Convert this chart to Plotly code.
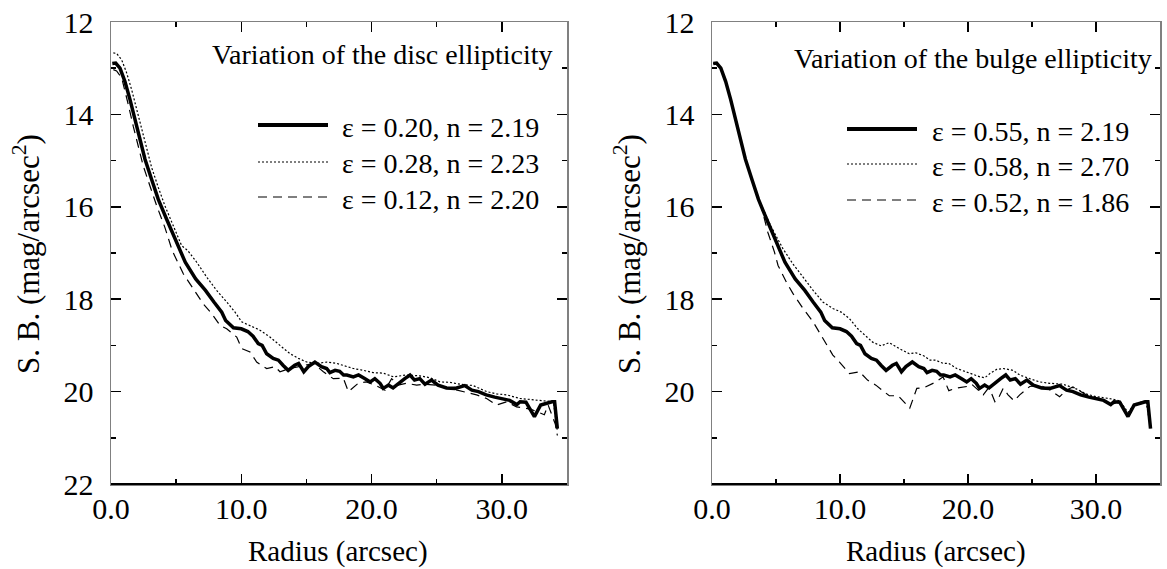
import plotly.graph_objects as go

# ---------------- data ----------------
# common reference profile (thick solid line, identical in both panels)
r_ref = [0.1, 0.36, 0.69, 1.07, 1.46, 1.84, 2.23, 2.61, 3.12, 3.63, 4.27, 4.91, 5.2, 5.7, 6.5,
         7.25, 7.9, 8.5, 8.8, 9.4, 10.0, 10.5, 10.9, 11.3, 11.6, 11.95, 12.45, 12.85, 13.2,
         13.6, 14.1, 14.4, 14.8, 15.15, 15.65, 16.15, 16.55, 16.8, 17.2, 17.55, 17.85, 18.1,
         18.6, 19.0, 19.5, 19.9, 20.25, 20.65, 20.9, 21.3, 21.65, 22.05, 22.55, 22.95, 23.3,
         23.7, 24.1, 24.6, 25.1, 25.75, 26.4, 27.15, 27.7, 28.2, 28.8, 29.45, 30.1, 30.6,
         31.15, 31.4, 31.85, 32.5, 32.98, 33.4, 33.85, 34.05, 34.26]
sb_ref = [12.90, 12.89, 13.0, 13.29, 13.68, 14.11, 14.54, 14.97, 15.41, 15.84, 16.27, 16.70, 16.9,
          17.2, 17.56, 17.81, 18.06, 18.28, 18.46, 18.62, 18.64, 18.70, 18.80, 18.96, 19.0,
          19.18, 19.28, 19.32, 19.43, 19.54, 19.43, 19.39, 19.57, 19.46, 19.36, 19.46, 19.5,
          19.59, 19.54, 19.56, 19.64, 19.64, 19.68, 19.64, 19.72, 19.79, 19.72, 19.82, 19.93,
          19.86, 19.92, 19.82, 19.72, 19.64, 19.75, 19.72, 19.84, 19.75, 19.86, 19.92, 19.93,
          19.87, 19.97, 20.0, 20.07, 20.12, 20.15, 20.19, 20.28, 20.22, 20.23, 20.54, 20.29,
          20.25, 20.22, 20.22, 20.8]

# disc ellipticity 0.28 (dotted)
r_disc_hi = [0.18, 0.43, 0.82, 1.2, 1.59, 1.97, 2.36, 2.74, 3.12, 3.63, 4.14, 4.78, 5.42, 5.9,
             6.58, 7.34, 8.11, 8.88, 9.52, 10.03, 10.67, 11.43, 12.2, 12.97, 13.74, 14.38,
             15.02, 15.79, 16.56, 17.32, 17.9, 18.6, 19.37, 20.13, 20.9, 21.67, 22.69, 23.71,
             24.48, 25.25, 26.02, 26.78, 27.8, 28.83, 29.6, 30.37, 31.39, 32.3, 33.26, 33.96, 34.26]
sb_disc_hi = [12.67, 12.68, 12.82, 13.1, 13.47, 13.9, 14.33, 14.76, 15.15, 15.58, 15.98, 16.41,
              16.84, 16.95, 17.2, 17.52, 17.81, 18.06, 18.28, 18.49, 18.57, 18.67, 18.82, 19.0,
              19.18, 19.28, 19.36, 19.39, 19.36, 19.39, 19.44, 19.5, 19.54, 19.59, 19.6, 19.68,
              19.64, 19.66, 19.7, 19.79, 19.8, 19.84, 19.87, 20.0, 20.05, 20.07, 20.15, 20.18,
              20.2, 20.22, 20.85]

# disc ellipticity 0.12 (dashed)
r_disc_lo = [0.18, 0.43, 0.82, 1.07, 1.33, 1.71, 2.1, 2.48, 2.99, 3.51, 4.14, 4.7, 5.55, 6.32,
             7.08, 7.73, 8.37, 8.88, 9.65, 10.03, 10.67, 11.18, 11.95, 12.59, 12.97, 13.74,
             14.76, 15.53, 16.3, 17.06, 17.83, 18.1, 18.22, 18.98, 19.6, 20.26, 21.03, 21.54,
             22.05, 22.69, 23.46, 24.1, 25.0, 26.02, 27.04, 28.06, 28.83, 29.6, 30.37, 31.13,
             32.2, 33.26, 33.55, 34.1, 34.26]
sb_disc_lo = [13.03, 13.06, 13.21, 13.47, 13.79, 14.26, 14.69, 15.12, 15.55, 15.98, 16.45, 16.95,
              17.45, 17.78, 18.1, 18.31, 18.57, 18.64, 18.82, 19.07, 19.14, 19.36, 19.5, 19.46,
              19.57, 19.5, 19.43, 19.39, 19.57, 19.72, 19.71, 19.9, 20.0, 19.82, 19.79, 19.86,
              19.97, 19.72, 19.86, 19.82, 19.86, 19.84, 19.86, 19.93, 20.0, 20.07, 20.15, 20.29,
              20.22, 20.33, 20.38, 20.5, 20.29, 20.7, 20.95]

# bulge ellipticity 0.58 (dotted)
r_bulge_hi = [0.1, 0.36, 0.69, 1.07, 1.46, 1.84, 2.23, 2.61, 3.12, 3.63, 4.0, 4.6, 5.55, 6.33,
              7.11, 7.9, 8.66, 9.44, 10.09, 10.74, 11.39, 12.04, 12.55, 13.21, 13.85, 14.63,
              15.41, 15.93, 16.57, 17.04, 17.46, 18.08, 18.5, 19.12, 20.16, 20.93, 21.32, 21.71,
              22.23, 22.75, 23.52, 24.04, 24.82, 25.6, 26.38, 27.41, 28.45, 29.22, 30.0, 31.05,
              31.85, 32.5, 33.0, 33.4, 33.9, 34.26]
sb_bulge_hi = [12.90, 12.89, 13.0, 13.29, 13.68, 14.11, 14.54, 14.97, 15.41, 15.84, 16.05, 16.42,
               16.91, 17.24, 17.52, 17.81, 18.06, 18.2, 18.28, 18.42, 18.64, 18.8, 18.93, 19.01,
               18.94, 19.07, 19.18, 19.16, 19.23, 19.32, 19.32, 19.39, 19.39, 19.5, 19.61, 19.68,
               19.7, 19.61, 19.52, 19.5, 19.54, 19.64, 19.72, 19.79, 19.82, 19.84, 19.94, 20.05,
               20.11, 20.15, 20.2, 20.45, 20.27, 20.24, 20.2, 20.78]

# bulge ellipticity 0.52 (dashed)
r_bulge_lo = [0.1, 0.36, 0.69, 1.07, 1.46, 1.84, 2.23, 2.61, 3.12, 3.63, 3.9, 4.36, 4.88, 5.16,
              5.81, 6.33, 7.11, 7.9, 8.66, 9.44, 9.96, 10.74, 11.52, 12.15, 12.8, 13.44, 13.85,
              14.55, 15.1, 15.45, 16.0, 16.6, 17.5, 18.05, 18.5, 18.99, 19.9, 20.29, 20.93,
              21.19, 21.58, 21.84, 22.1, 22.36, 22.75, 23.13, 23.6, 24.04, 24.82, 25.6, 26.38,
              27.16, 27.68, 28.2, 29.24, 30.27, 31.1, 31.8, 32.5, 32.96, 33.4, 33.97, 34.26]
sb_bulge_lo = [12.90, 12.89, 13.0, 13.29, 13.68, 14.11, 14.54, 14.97, 15.41, 15.84, 16.05, 16.55,
               16.98, 17.27, 17.63, 17.88, 18.2, 18.49, 18.85, 19.21, 19.36, 19.61, 19.57, 19.75,
               19.86, 20.0, 20.09, 20.09, 20.26, 20.36, 19.93, 19.91, 19.79, 19.68, 19.98, 19.93,
               19.89, 19.84, 20.0, 20.07, 19.93, 20.04, 20.22, 20.15, 19.93, 20.07, 20.2, 20.07,
               19.89, 19.86, 19.96, 20.11, 19.97, 19.9, 20.07, 20.15, 20.28, 20.23, 20.52, 20.3,
               20.27, 20.22, 20.79]

left_labels = ["\u03b5 = 0.20, n = 2.19", "\u03b5 = 0.28, n = 2.23", "\u03b5 = 0.12, n = 2.20"]
right_labels = ["\u03b5 = 0.55, n = 2.19", "\u03b5 = 0.58, n = 2.70", "\u03b5 = 0.52, n = 1.86"]
left_title = "Variation of the disc ellipticity"
right_title = "Variation of the bulge ellipticity"
x_tickvals = [0, 10, 20, 30]
x_ticktext = ["0.0", "10.0", "20.0", "30.0"]
y_tickvals_left = [12, 14, 16, 18, 20, 22]
y_tickvals_right = [12, 14, 16, 18, 20]

# ---------------- figure ----------------
W, H = 1167, 569
FONT = "Liberation Serif, Times New Roman, Times, serif"

def px(x):
    return x / W

def py(y):
    return 1 - y / H

STY = {
    "solid": dict(color="black", width=3.5),
    "dot": dict(color="black", width=1.2, dash="2px,2px"),
    "dash": dict(color="black", width=1.2, dash="9px,6px"),
}

fig = go.Figure()
fig.add_trace(go.Scatter(x=r_ref, y=sb_ref, mode="lines", line=STY["solid"], xaxis="x", yaxis="y", showlegend=False))
fig.add_trace(go.Scatter(x=r_disc_hi, y=sb_disc_hi, mode="lines", line=STY["dot"], xaxis="x", yaxis="y", showlegend=False))
fig.add_trace(go.Scatter(x=r_disc_lo, y=sb_disc_lo, mode="lines", line=STY["dash"], xaxis="x", yaxis="y", showlegend=False))
fig.add_trace(go.Scatter(x=r_bulge_hi, y=sb_bulge_hi, mode="lines", line=STY["dot"], xaxis="x2", yaxis="y2", showlegend=False))
fig.add_trace(go.Scatter(x=r_bulge_lo, y=sb_bulge_lo, mode="lines", line=STY["dash"], xaxis="x2", yaxis="y2", showlegend=False))
fig.add_trace(go.Scatter(x=r_ref, y=sb_ref, mode="lines", line=STY["solid"], xaxis="x2", yaxis="y2", showlegend=False))

left_dom = [px(111), px(567)]
right_dom = [px(712), px(1160)]
y_dom = [py(484), py(22)]

TICKFONT = dict(family=FONT, size=30, color="black")

def xax(domain, anchor):
    return dict(
        domain=domain, anchor=anchor, range=[0, 35], tickvals=x_tickvals, ticktext=x_ticktext,
        ticks="inside", ticklen=10, tickwidth=1.5, tickcolor="black",
        minor=dict(dtick=5, tick0=0, ticks="inside", ticklen=5, tickwidth=1.5, tickcolor="black"),
        showline=True, linecolor="#808080", linewidth=1.5, mirror="ticks",
        showgrid=False, zeroline=False, automargin=False,
        tickfont=TICKFONT, ticklabelstandoff=-3, ticklabeloverflow="allow",
    )

def yax(domain, anchor, tickvals):
    return dict(
        domain=domain, anchor=anchor, range=[22, 12], tickvals=tickvals,
        ticktext=[str(v) for v in tickvals],
        ticks="inside", ticklen=10, tickwidth=1.5, tickcolor="black",
        minor=dict(dtick=1, tick0=12, ticks="inside", ticklen=5, tickwidth=1.5, tickcolor="black"),
        showline=True, linecolor="#808080", linewidth=1.5, mirror="ticks",
        showgrid=False, zeroline=False, automargin=False,
        tickfont=TICKFONT, ticklabelstandoff=10, ticklabeloverflow="allow",
    )

fig.update_layout(
    width=W, height=H, margin=dict(l=0, r=0, t=0, b=0),
    paper_bgcolor="white", plot_bgcolor="white", showlegend=False, hovermode=False,
    xaxis=xax(left_dom, "y"), yaxis=yax(y_dom, "x", y_tickvals_left),
    xaxis2=xax(right_dom, "y2"), yaxis2=yax(y_dom, "x2", y_tickvals_right),
)

shapes = []
# black bottom frame lines
for xr, yr in (("x domain", "y domain"), ("x2 domain", "y2 domain")):
    shapes.append(dict(type="line", xref=xr, yref=yr, x0=0, x1=1, y0=0, y1=0,
                       line=dict(color="black", width=1.8)))

annotations = []
# legends (manual, long sample lines like the original)
legend_specs = [
    (258, 328, 340, [125, 162, 197], left_labels),
    (847, 917, 930, [129, 164, 200], right_labels),
]
keys = ["solid", "dot", "dash"]
for x0, x1, xt, rows, labels in legend_specs:
    for k, yrow, lab in zip(keys, rows, labels):
        st = dict(STY[k])
        if k == "solid":
            st["width"] = 4
        shapes.append(dict(type="line", xref="paper", yref="paper", x0=px(x0), x1=px(x1),
                           y0=py(yrow), y1=py(yrow), line=st))
        annotations.append(dict(text=lab, xref="paper", yref="paper", x=px(xt), y=py(yrow + 2),
                                xanchor="left", yanchor="middle", showarrow=False,
                                font=dict(family=FONT, size=28, color="black")))

# panel captions
annotations.append(dict(text=left_title, xref="paper", yref="paper", x=px(555), y=py(55),
                        xanchor="right", yanchor="middle", showarrow=False,
                        font=dict(family=FONT, size=28, color="black")))
annotations.append(dict(text=right_title, xref="paper", yref="paper", x=px(1154), y=py(58),
                        xanchor="right", yanchor="middle", showarrow=False,
                        font=dict(family=FONT, size=28, color="black")))

# axis titles
for cx in (338, 936):
    annotations.append(dict(text="Radius (arcsec)", xref="paper", yref="paper", x=px(cx), y=py(569),
                            xanchor="center", yanchor="bottom", showarrow=False, borderpad=0,
                            font=dict(family=FONT, size=29, color="black")))
for cx in (26, 627):
    annotations.append(dict(text="S. B. (mag/arcsec<sup>2</sup>)", xref="paper", yref="paper",
                            x=px(cx), y=py(254), xanchor="center", yanchor="middle",
                            textangle=-90, showarrow=False,
                            font=dict(family=FONT, size=31, color="black")))

fig.update_layout(shapes=shapes, annotations=annotations)
# remove the default 8px page margin so the figure fills the browser window exactly
fig.write_html("out.html", config={"displayModeBar": False, "staticPlot": True},
               post_script="document.body.style.margin='0';")
